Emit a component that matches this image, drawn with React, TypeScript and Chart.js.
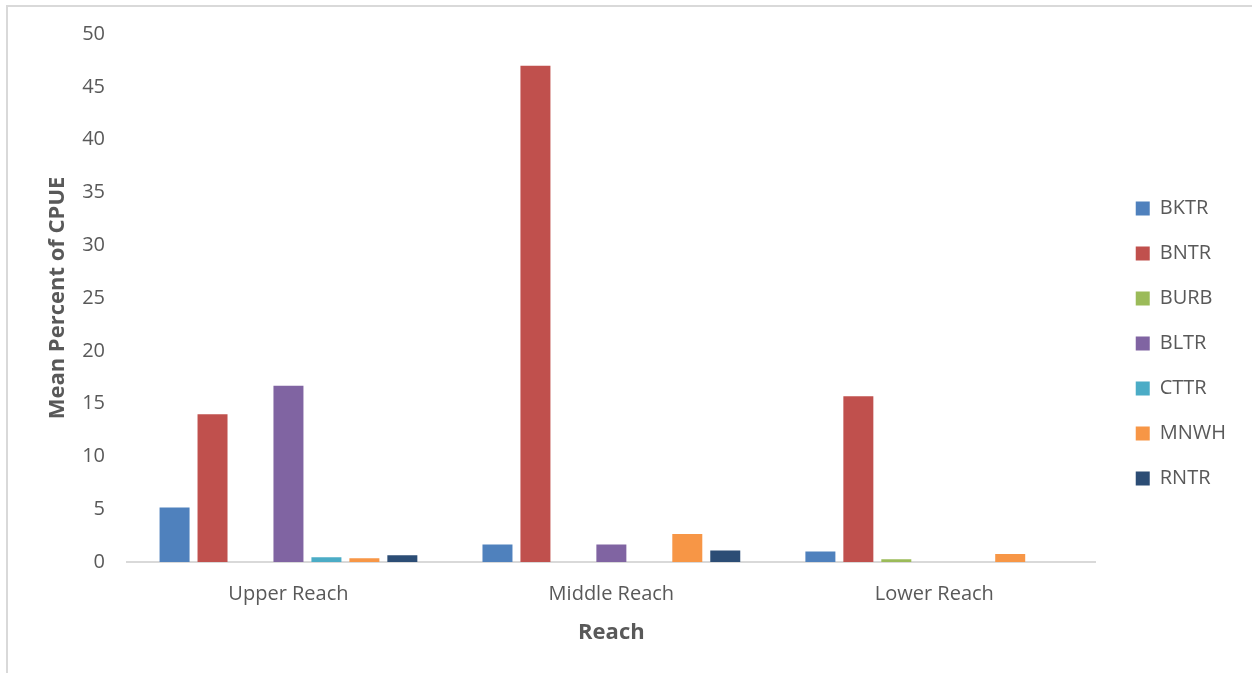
import React, { useEffect, useRef } from "react";
import { Chart, registerables } from "chart.js";

Chart.register(...registerables);

const categories = ["Upper Reach", "Middle Reach", "Lower Reach"];
const seriesNames = ["BKTR", "BNTR", "BURB", "BLTR", "CTTR", "MNWH", "RNTR"];
const BKTR = [5.15, 1.65, 1.0];
const BNTR = [14.0, 47.0, 15.7];
const BURB = [0, 0, 0.25];
const BLTR = [16.7, 1.65, 0];
const CTTR = [0.45, 0, 0];
const MNWH = [0.35, 2.65, 0.75];
const RNTR = [0.65, 1.1, 0];
const seriesValues = [BKTR, BNTR, BURB, BLTR, CTTR, MNWH, RNTR];
const seriesColors = ["#4F81BD", "#C0504D", "#9BBB59", "#8064A2", "#4BACC6", "#F79646", "#2C4D75"];
const yTitle = "Mean Percent of CPUE";
const xTitle = "Reach";

const FONT = "'Open Sans', 'DejaVu Sans', sans-serif";
const TEXT = "#595959";

export default function App() {
  const ref = useRef<HTMLCanvasElement | null>(null);
  useEffect(() => {
    if (!ref.current) return;
    const chart = new Chart(ref.current, {
      type: "bar",
      data: {
        labels: categories,
        datasets: seriesNames.map((name, i) => ({
          label: name,
          data: seriesValues[i],
          backgroundColor: seriesColors[i],
          borderWidth: 0,
          categoryPercentage: 0.823,
          barPercentage: 0.79,
        })),
      },
      options: {
        animation: false,
        responsive: false,
        maintainAspectRatio: false,
        layout: { padding: { top: 23, bottom: 9, left: 0, right: 16 } },
        plugins: {
          tooltip: { enabled: false },
          legend: {
            position: "right",
            align: "center",
            labels: {
              boxWidth: 14,
              boxHeight: 14,
              padding: 25,
              color: TEXT,
              font: { family: FONT, size: 20 },
            },
          },
        },
        scales: {
          x: {
            grid: { display: false, drawTicks: false },
            border: { display: true, color: "#d9d9d9", width: 2 },
            ticks: { color: TEXT, font: { family: FONT, size: 20 }, padding: 20 },
            title: {
              display: true,
              text: xTitle,
              color: TEXT,
              font: { family: FONT, size: 22, weight: "bold" },
              padding: { top: 12, bottom: 18 },
            },
            afterFit: (s: any) => {
              s.height = 102;
            },
          },
          y: {
            min: 0,
            max: 50,
            grid: { display: false, drawTicks: false },
            border: { display: false },
            ticks: { stepSize: 5, color: TEXT, font: { family: FONT, size: 20 }, padding: 22 },
            title: {
              display: true,
              text: yTitle,
              color: TEXT,
              font: { family: FONT, size: 22, weight: "bold" },
              padding: { top: 45, bottom: 4 },
            },
            afterFit: (s: any) => {
              s.width = 127;
            },
          },
          gap: {
            type: "linear",
            position: "right",
            display: true,
            grid: { display: false, drawTicks: false },
            border: { display: false },
            ticks: { display: false },
            afterFit: (s: any) => {
              s.width = 15;
            },
          },
        },
      },
    } as any);
    return () => chart.destroy();
  }, []);

  return (
    <div style={{ position: "fixed", left: 0, top: 0, width: 1252, height: 673, overflow: "hidden", background: "#fff" }}>
      <div
        style={{
          position: "absolute",
          left: 6,
          top: 5,
          width: 1300,
          height: 700,
          borderLeft: "2px solid #d9d9d9",
          borderTop: "2px solid #d9d9d9",
        }}
      />
      <canvas ref={ref} width={1252} height={673} style={{ position: "absolute", left: 0, top: 0, width: 1252, height: 673 }} />
    </div>
  );
}
